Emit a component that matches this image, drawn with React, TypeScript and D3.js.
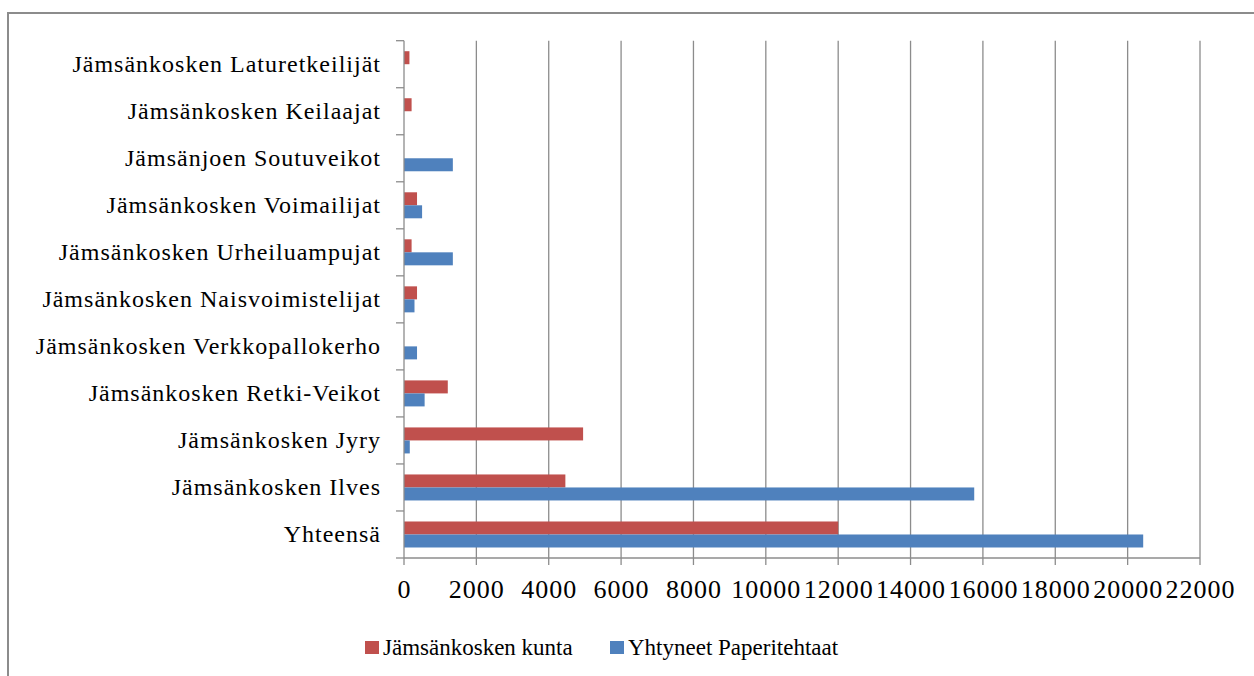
import React, { useEffect, useRef } from 'react';
import * as d3 from 'd3';

const categories = [
  'Jämsänkosken Laturetkeilijät',
  'Jämsänkosken Keilaajat',
  'Jämsänjoen Soutuveikot',
  'Jämsänkosken Voimailijat',
  'Jämsänkosken Urheiluampujat',
  'Jämsänkosken Naisvoimistelijat',
  'Jämsänkosken Verkkopallokerho',
  'Jämsänkosken Retki-Veikot',
  'Jämsänkosken Jyry',
  'Jämsänkosken Ilves',
  'Yhteensä',
];
const seriesNames = ['Jämsänkosken kunta', 'Yhtyneet Paperitehtaat'];
const kunta = [150, 210, 0, 360, 210, 360, 0, 1210, 4950, 4460, 12000];
const paperitehtaat = [0, 0, 1350, 500, 1350, 290, 360, 570, 160, 15760, 20430];
const xTicks = [0, 2000, 4000, 6000, 8000, 10000, 12000, 14000, 16000, 18000, 20000, 22000];
const colors = ['#C0504D', '#4F81BD'];

const W = 1254;
const H = 676;
const FONT = "'Liberation Serif', 'DejaVu Serif', 'Noto Serif', 'Times New Roman', Times, serif";

export default function App() {
  const ref = useRef<SVGSVGElement>(null);

  useEffect(() => {
    const svg = d3.select(ref.current);
    svg.selectAll('*').remove();

    // chart frame
    svg.append('rect')
      .attr('x', 8).attr('y', 13)
      .attr('width', W + 20).attr('height', H + 20)
      .attr('fill', 'white')
      .attr('stroke', '#8c8c8c')
      .attr('stroke-width', 2);

    const x = d3.scaleLinear().domain([0, 22000]).range([404, 1200]);
    const y = d3.scaleBand<string>()
      .domain(categories)
      .range([40.7, 558])
      .paddingInner(0.447)
      .paddingOuter(0.2235);
    const sub = d3.scaleBand<number>().domain([0, 1]).range([0, y.bandwidth()]);

    // gridlines
    svg.append('g')
      .selectAll('line')
      .data(xTicks.filter(t => t > 0))
      .join('line')
      .attr('x1', d => x(d)).attr('x2', d => x(d))
      .attr('y1', 40.7).attr('y2', 558)
      .attr('stroke', '#8c8c8c')
      .attr('stroke-width', 1.3);

    // bars
    const rows = categories.map((c, i) => ({ c, vals: [kunta[i], paperitehtaat[i]] }));
    const g = svg.append('g');
    rows.forEach(r => {
      r.vals.forEach((v, s) => {
        if (v <= 0) return;
        g.append('rect')
          .attr('x', x(0))
          .attr('y', (y(r.c) as number) + (sub(s) as number))
          .attr('width', x(v) - x(0))
          .attr('height', sub.bandwidth())
          .attr('fill', colors[s]);
      });
    });

    // y axis
    const step = y.step();
    const bounds = d3.range(categories.length + 1).map(i => 40.7 + i * step);
    svg.append('line')
      .attr('x1', x(0)).attr('x2', x(0))
      .attr('y1', 40.7).attr('y2', 558)
      .attr('stroke', '#8c8c8c').attr('stroke-width', 1.3);
    svg.append('g').selectAll('line').data(bounds).join('line')
      .attr('x1', x(0) - 8).attr('x2', x(0))
      .attr('y1', d => d).attr('y2', d => d)
      .attr('stroke', '#8c8c8c').attr('stroke-width', 1.3);
    svg.append('g').selectAll('text').data(categories).join('text')
      .attr('x', 381)
      .attr('y', d => (y(d) as number) + y.bandwidth() / 2 + 8)
      .attr('text-anchor', 'end')
      .style('font-family', FONT)
      .style('font-size', '24px')
      .style('letter-spacing', '1px')
      .attr('fill', '#000')
      .text(d => d);

    // x axis
    svg.append('line')
      .attr('x1', x(0)).attr('x2', x(22000))
      .attr('y1', 558).attr('y2', 558)
      .attr('stroke', '#8c8c8c').attr('stroke-width', 1.3);
    svg.append('g').selectAll('line').data(xTicks).join('line')
      .attr('x1', d => x(d)).attr('x2', d => x(d))
      .attr('y1', 558).attr('y2', 565)
      .attr('stroke', '#8c8c8c').attr('stroke-width', 1.3);
    svg.append('g').selectAll('text').data(xTicks).join('text')
      .attr('x', d => x(d) + 0.5)
      .attr('y', 598)
      .attr('text-anchor', 'middle')
      .style('font-family', FONT)
      .style('font-size', '26px')
      .style('letter-spacing', '1px')
      .attr('fill', '#000')
      .text(d => String(d));

    // legend
    const legendX = [365, 610];
    seriesNames.forEach((name, i) => {
      svg.append('rect')
        .attr('x', legendX[i]).attr('y', 641)
        .attr('width', 14).attr('height', 13)
        .attr('fill', colors[i]);
      svg.append('text')
        .attr('x', legendX[i] + 18)
        .attr('y', 655)
        .style('font-family', FONT)
        .style('font-size', '23px')
        .attr('fill', '#000')
        .text(name);
    });
  }, []);

  return (
    <div style={{ position: 'fixed', left: 0, top: 0, width: W, height: H, background: '#fff' }}>
      <svg ref={ref} width={W} height={H} />
    </div>
  );
}
